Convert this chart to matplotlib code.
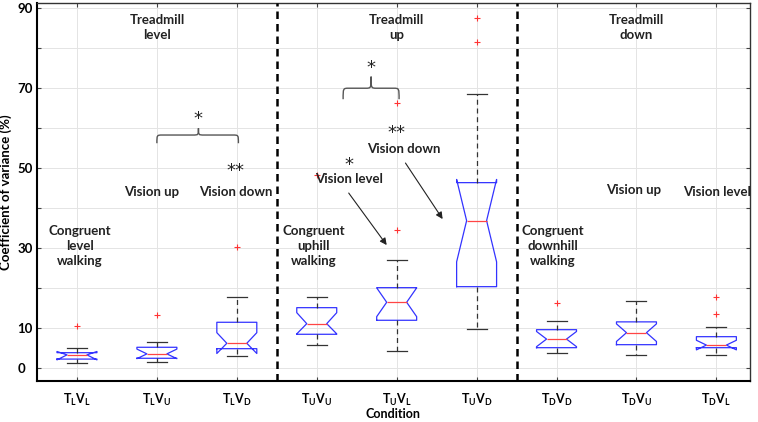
import numpy as np
import matplotlib
matplotlib.use('Agg')
import matplotlib.pyplot as plt
from matplotlib.path import Path
from matplotlib.patches import PathPatch

plt.rcParams['font.family'] = ['Lato', 'DejaVu Sans']
plt.rcParams['mathtext.fontset'] = 'custom'
plt.rcParams['mathtext.rm'] = 'Lato'
plt.rcParams['mathtext.bf'] = 'Lato:bold'

# condition labels (treadmill / vision)
tread = ['L', 'L', 'L', 'U', 'U', 'U', 'D', 'D', 'D']
vision = ['L', 'U', 'D', 'U', 'L', 'D', 'D', 'U', 'L']

# box statistics (coefficient of variance, %)
medians = [3.35, 3.6, 6.25, 11.15, 16.5, 36.9, 7.3, 8.9, 5.8]
q1 = [2.3, 2.5, 4.9, 8.5, 12.0, 20.4, 5.15, 5.9, 5.15]
q3 = [3.9, 5.25, 11.5, 15.15, 20.15, 46.4, 9.65, 11.6, 7.9]
notch_lo = [2.1, 2.4, 3.7, 8.6, 12.9, 26.6, 5.4, 6.7, 4.6]
notch_hi = [4.2, 4.8, 8.9, 13.9, 20.1, 47.2, 9.2, 11.1, 7.0]
whis_lo = [1.25, 1.5, 3.1, 5.8, 4.4, 9.8, 3.8, 3.4, 3.3]
whis_hi = [5.0, 6.5, 17.9, 17.9, 27.1, 68.6, 11.75, 16.9, 10.3]
outliers = [[10.6], [13.3], [30.25], [48.3], [34.6, 66.25], [81.65, 87.5],
            [16.4], [], [13.5, 17.9]]

ytick_vals = [0, 10, 20, 30, 40, 50, 60, 70, 80, 90]
ytick_text = ['0', '10', '', '30', '', '50', '', '70', '', '90']


def brace(ax, x0, x1, xm, y_end, y_bar, y_tip, r=0.07):
    verts = [(x0, y_end), (x0, y_bar), (x0, y_bar), (x0 + r, y_bar),
             (xm - r, y_bar),
             (xm, y_bar), (xm, y_bar), (xm, y_tip),
             (xm, y_bar), (xm, y_bar), (xm + r, y_bar),
             (x1 - r, y_bar),
             (x1, y_bar), (x1, y_bar), (x1, y_end)]
    codes = [Path.MOVETO, Path.CURVE4, Path.CURVE4, Path.CURVE4,
             Path.LINETO,
             Path.CURVE4, Path.CURVE4, Path.CURVE4,
             Path.CURVE4, Path.CURVE4, Path.CURVE4,
             Path.LINETO,
             Path.CURVE4, Path.CURVE4, Path.CURVE4]
    ax.add_patch(PathPatch(Path(verts, codes), fill=False, ec='#555555', lw=1.0))


def label(ax, x, y, s, **kw):
    ax.text(x, y, s, ha='center', va='center', fontsize=9.5,
            fontweight='bold', color='#222222', linespacing=1.3, **kw)


def star(ax, x, y, s):
    ax.text(x, y, s, ha='center', va='center', fontsize=13,
            family='DejaVu Sans', color='#222222')


def arrow(ax, xy_from, xy_to):
    ax.annotate('', xy=xy_to, xytext=xy_from,
                arrowprops=dict(arrowstyle='-|>', color='#222222', lw=0.8,
                                mutation_scale=10, shrinkA=0, shrinkB=0))


fig = plt.figure(figsize=(7.58, 4.22), dpi=100)
ax = fig.add_axes([0.0488, 0.0979, 0.9406, 0.895])

stats = []
for i in range(len(medians)):
    stats.append(dict(med=medians[i], q1=q1[i], q3=q3[i],
                      cilo=notch_lo[i], cihi=notch_hi[i],
                      whislo=whis_lo[i], whishi=whis_hi[i],
                      fliers=outliers[i]))
positions = np.arange(1, len(medians) + 1)

ax.bxp(stats, positions=positions, widths=0.5, capwidths=0.25,
       shownotches=True, manage_ticks=False,
       boxprops=dict(color='#3333ff', lw=0.9),
       medianprops=dict(color='#ff4444', lw=0.9),
       whiskerprops=dict(color='#333333', lw=0.9, linestyle=(0, (4, 3))),
       capprops=dict(color='#333333', lw=0.9),
       flierprops=dict(marker='+', markeredgecolor='#ff3333', markersize=5,
                       markeredgewidth=0.8, linestyle='none'))

# group separators
for xs in [3.5, 6.5]:
    ax.axvline(xs, color='k', lw=1.8, linestyle=(0, (3, 2)), zorder=3)

ax.set_xlim(0.5, 9.42)
ax.set_ylim(-3.1, 91.3)
ax.set_xticks(positions)
ax.set_xticklabels([r'$\mathbf{T_{%s}V_{%s}}$' % (t, v) for t, v in zip(tread, vision)],
                   fontsize=9)
ax.set_yticks(ytick_vals)
ax.set_yticklabels(ytick_text, fontsize=9.5, fontweight='bold', ha='left')
ax.tick_params(axis='y', direction='in', length=3, pad=14, right=True, color='#444444')
ax.tick_params(axis='x', direction='in', length=3, pad=8, top=True, color='#444444')
ax.grid(True, color='#e4e4e4', lw=0.7)
ax.set_axisbelow(True)
for side in ['left', 'bottom']:
    ax.spines[side].set_linewidth(1.5)
for side in ['top', 'right']:
    ax.spines[side].set_linewidth(1.0)
    ax.spines[side].set_color('#333333')

ax.set_xlabel('Condition', fontsize=9, fontweight='bold')
ax.xaxis.set_label_coords(0.5, -0.073)
ax.set_ylabel('Coefficient of variance (%)', fontsize=9.5, fontweight='bold')
ax.yaxis.set_label_coords(-0.035, 0.5)

# group 1: treadmill level
label(ax, 2.0, 85.1, 'Treadmill\nlevel')
label(ax, 1.04, 30.6, 'Congruent\nlevel\nwalking')
label(ax, 1.94, 44.1, 'Vision up')
label(ax, 2.99, 44.1, 'Vision down')
star(ax, 2.98, 49.3, '**')
star(ax, 2.52, 62.3, '*')
brace(ax, 2.0, 3.02, 2.52, 56.25, 58.3, 60.0)

# group 2: treadmill up
label(ax, 5.0, 85.1, 'Treadmill\nup')
star(ax, 4.68, 75.1, '*')
brace(ax, 4.33, 5.03, 4.68, 67.25, 70.0, 72.9)
label(ax, 3.96, 30.6, 'Congruent\nuphill\nwalking')
star(ax, 4.4, 50.8, '*')
label(ax, 4.4, 47.4, 'Vision level')
arrow(ax, (4.4, 43.8), (4.875, 30.8))
star(ax, 5.0, 58.7, '**')
label(ax, 5.09, 54.9, 'Vision down')
arrow(ax, (5.11, 51.3), (5.575, 37.3))

# group 3: treadmill down
label(ax, 8.0, 85.1, 'Treadmill\ndown')
label(ax, 6.95, 30.6, 'Congruent\ndownhill\nwalking')
label(ax, 7.96, 44.6, 'Vision up')
label(ax, 9.01, 44.1, 'Vision level')

fig.savefig('out.png', dpi=100)
